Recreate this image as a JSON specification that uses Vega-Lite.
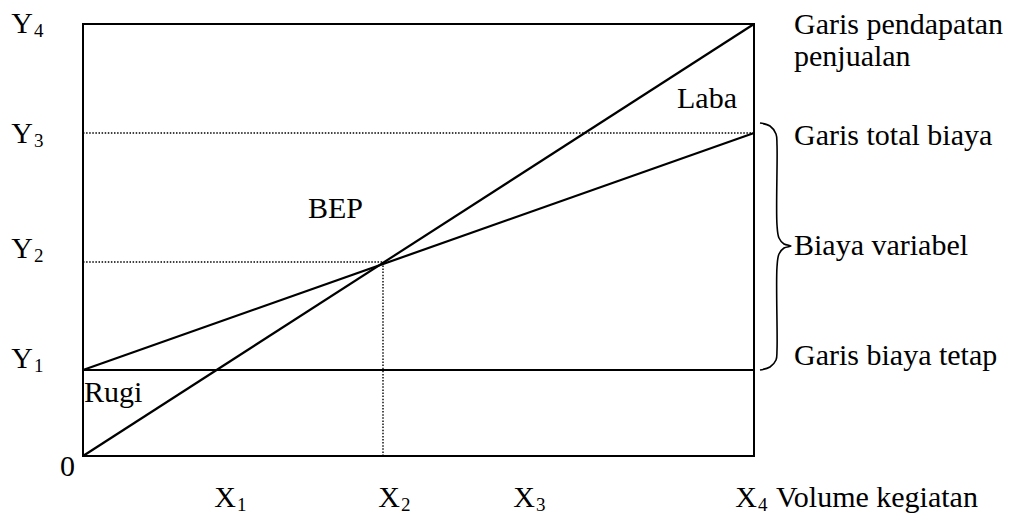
{
  "$schema": "https://vega.github.io/schema/vega-lite/v6.json",
  "autosize": {"type": "none"},
  "padding": {"left": 83, "top": 24, "right": 267, "bottom": 65},
  "width": 671,
  "height": 432,
  "background": "white",
  "view": {"stroke": "black", "strokeWidth": 2},
  "config": {"text": {"font": "Liberation Serif", "fontSize": 30, "color": "black", "baseline": "alphabetic"}},
  "datasets": {
    "solid": [
      {"name": "Pendapatan", "x": 0, "y": 0, "x2": 671, "y2": 432},
      {"name": "Total biaya", "x": 0, "y": 86, "x2": 671, "y2": 323},
      {"name": "Biaya tetap", "x": 0, "y": 86, "x2": 671, "y2": 86}
    ],
    "dotted": [
      {"name": "Y3", "x": 0, "y": 323, "x2": 671, "y2": 323},
      {"name": "Y2", "x": 0, "y": 194, "x2": 300, "y2": 194},
      {"name": "X2", "x": 300, "y": 0, "x2": 300, "y2": 194}
    ],
    "brace": [
      {"o": 1, "x": 677, "y": 333},
      {"o": 2, "x": 687, "y": 330},
      {"o": 3, "x": 693, "y": 322},
      {"o": 4, "x": 694, "y": 311},
      {"o": 5, "x": 694, "y": 231},
      {"o": 6, "x": 696, "y": 218},
      {"o": 7, "x": 701, "y": 212},
      {"o": 8, "x": 708, "y": 210},
      {"o": 9, "x": 701, "y": 208},
      {"o": 10, "x": 696, "y": 202},
      {"o": 11, "x": 694, "y": 189},
      {"o": 12, "x": 694, "y": 106},
      {"o": 13, "x": 693, "y": 96},
      {"o": 14, "x": 687, "y": 89},
      {"o": 15, "x": 677, "y": 86}
    ],
    "ticks": [
      {"main": "Y", "sub": "4", "x": -50, "y": 423},
      {"main": "Y", "sub": "3", "x": -50, "y": 313},
      {"main": "Y", "sub": "2", "x": -50, "y": 198},
      {"main": "Y", "sub": "1", "x": -50, "y": 88},
      {"main": "0", "sub": "", "x": -8, "y": -20},
      {"main": "X", "sub": "1", "x": 153, "y": -51},
      {"main": "X", "sub": "2", "x": 317, "y": -51},
      {"main": "X", "sub": "3", "x": 452, "y": -51},
      {"main": "X", "sub": "4", "x": 674, "y": -51}
    ],
    "labels": [
      {"text": "Garis pendapatan", "x": 711, "y": 422},
      {"text": "penjualan", "x": 711, "y": 390},
      {"text": "Garis total biaya", "x": 711, "y": 311},
      {"text": "Biaya variabel", "x": 711, "y": 201},
      {"text": "Garis biaya tetap", "x": 711, "y": 91},
      {"text": "Volume kegiatan", "x": 693, "y": -51},
      {"text": "Laba", "x": 594, "y": 348},
      {"text": "BEP", "x": 225, "y": 238},
      {"text": "Rugi", "x": 1, "y": 54}
    ]
  },
  "layer": [
    {
      "data": {"name": "dotted"},
      "mark": {"type": "rule", "strokeWidth": 1.4, "strokeDash": [1.5, 1.6], "color": "black"},
      "encoding": {
        "x": {"field": "x", "type": "quantitative", "scale": {"domain": [0, 671], "nice": false, "zero": false}, "axis": null},
        "y": {"field": "y", "type": "quantitative", "scale": {"domain": [0, 432], "nice": false, "zero": false}, "axis": null},
        "x2": {"field": "x2"},
        "y2": {"field": "y2"}
      }
    },
    {
      "data": {"name": "solid"},
      "mark": {"type": "rule", "strokeWidth": 2.2, "color": "black"},
      "encoding": {
        "x": {"field": "x", "type": "quantitative", "scale": {"domain": [0, 671], "nice": false, "zero": false}, "axis": null},
        "y": {"field": "y", "type": "quantitative", "scale": {"domain": [0, 432], "nice": false, "zero": false}, "axis": null},
        "x2": {"field": "x2"},
        "y2": {"field": "y2"}
      }
    },
    {
      "data": {"name": "brace"},
      "mark": {"type": "line", "strokeWidth": 1.6, "color": "black", "interpolate": "catmull-rom"},
      "encoding": {
        "x": {"field": "x", "type": "quantitative", "axis": null},
        "y": {"field": "y", "type": "quantitative", "axis": null},
        "order": {"field": "o"}
      }
    },
    {
      "data": {"name": "ticks"},
      "mark": {"type": "text", "align": "right"},
      "encoding": {
        "x": {"field": "x", "type": "quantitative", "axis": null},
        "y": {"field": "y", "type": "quantitative", "axis": null},
        "text": {"field": "main"}
      }
    },
    {
      "data": {"name": "ticks"},
      "mark": {"type": "text", "align": "left", "fontSize": 19, "dx": 1, "dy": 4},
      "encoding": {
        "x": {"field": "x", "type": "quantitative", "axis": null},
        "y": {"field": "y", "type": "quantitative", "axis": null},
        "text": {"field": "sub"}
      }
    },
    {
      "data": {"name": "labels"},
      "mark": {"type": "text", "align": "left"},
      "encoding": {
        "x": {"field": "x", "type": "quantitative", "axis": null},
        "y": {"field": "y", "type": "quantitative", "axis": null},
        "text": {"field": "text"}
      }
    }
  ]
}
